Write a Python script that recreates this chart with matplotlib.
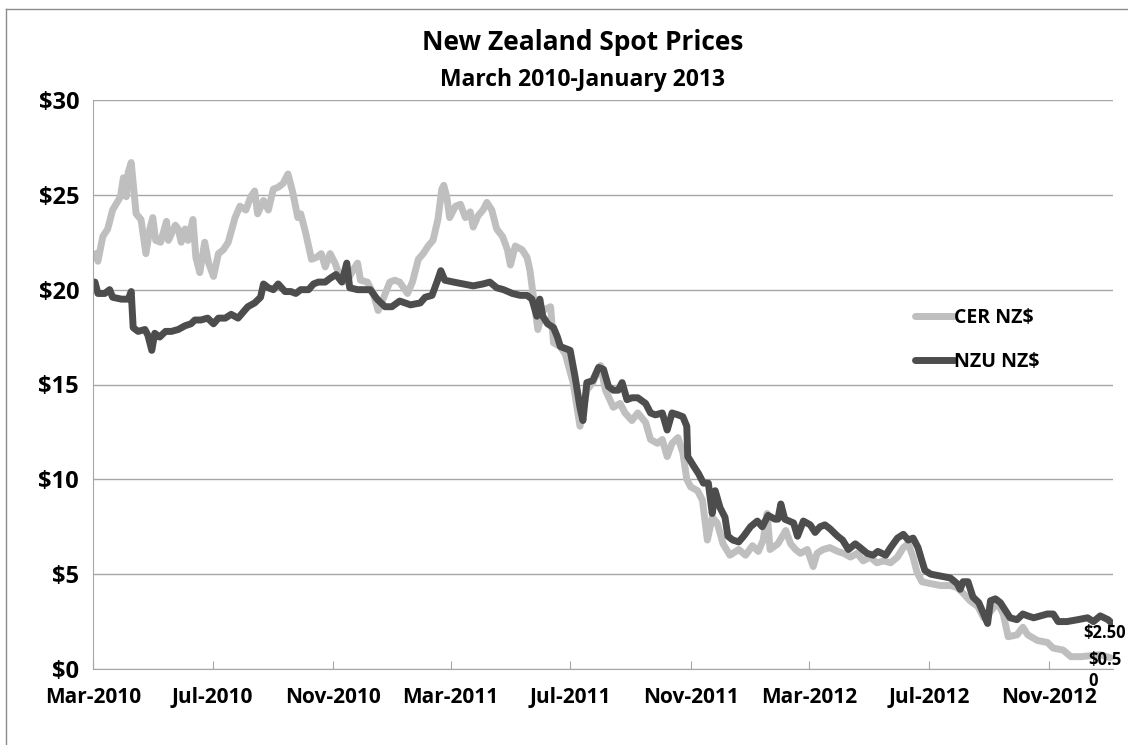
import numpy as np
import matplotlib
matplotlib.use("Agg")
import matplotlib.pyplot as plt
import matplotlib.dates as mdates
from matplotlib.lines import Line2D

plt.rcParams['font.family'] = ['Open Sans', 'DejaVu Sans']
plt.rcParams['font.weight'] = 'bold'

#-------------------------------------------------------------------------------
start = np.datetime64('2010-03-01')

# days since 1 Mar 2010, NZ$ price
cer_day = [3, 5, 10, 15, 20, 28, 31, 34, 36, 39, 42, 44, 49, 54, 58, 61, 64, 69,
           75, 77, 84, 87, 90, 94, 97, 102, 105, 109, 114, 118, 123, 128, 133,
           138, 145, 150, 156, 161, 165, 168, 174, 179, 184, 189, 194, 199, 204,
           209, 212, 217, 223, 228, 233, 237, 242, 247, 252, 259, 265, 270, 273,
           280, 286, 291, 296, 303, 308, 313, 321, 326, 332, 337, 342, 347, 352,
           356, 358, 361, 364, 370, 375, 380, 385, 388, 393, 398, 402, 407, 412,
           418, 423, 426, 431, 438, 443, 446, 449, 454, 459, 467, 470, 477, 482,
           490, 497, 504, 510, 518, 523, 531, 538, 543, 550, 556, 564, 569, 576,
           581, 586, 591, 597, 602, 606, 610, 617, 622, 627, 632, 637, 643, 650,
           659, 666, 673, 679, 684, 688, 691, 699, 707, 712, 717, 722, 729, 735,
           739, 745, 752, 760, 766, 773, 780, 786, 793, 800, 807, 814, 821, 827,
           832, 837, 841, 846, 855, 865, 875, 882, 888, 895, 903, 909, 914, 923,
           929, 934, 943, 949, 954, 964, 974, 980, 990, 998, 1008, 1018, 1028, 1038]
cer_val = [21.9, 21.5, 22.8, 23.2, 24.2, 24.9, 25.9, 24.9, 26.2, 26.7, 25.1, 24.0,
           23.7, 21.9, 23.2, 23.8, 22.6, 22.5, 23.6, 22.6, 23.4, 23.2, 22.5, 23.2,
           22.6, 23.7, 21.7, 20.9, 22.5, 21.4, 20.7, 21.9, 22.1, 22.5, 23.8, 24.4,
           24.2, 24.9, 25.2, 24.0, 24.7, 24.2, 25.3, 25.4, 25.6, 26.1, 25.1, 23.8,
           24.0, 23.0, 21.6, 21.7, 21.9, 21.2, 21.9, 21.4, 20.7, 20.4, 21.0, 21.4,
           20.5, 20.4, 19.8, 18.9, 19.5, 20.4, 20.5, 20.4, 19.8, 20.4, 21.6, 21.9,
           22.3, 22.6, 23.7, 25.3, 25.5, 24.9, 23.8, 24.4, 24.5, 23.8, 24.1, 23.3,
           23.9, 24.2, 24.6, 24.2, 23.2, 22.8, 22.1, 21.3, 22.3, 22.1, 21.7, 21.0,
           19.8, 17.9, 18.9, 19.1, 17.2, 17.0, 16.6, 15.1, 12.8, 14.7, 15.1, 16.0,
           14.7, 13.8, 14.0, 13.5, 13.1, 13.5, 13.0, 12.1, 11.9, 12.1, 11.2, 11.9,
           12.2, 11.4, 10.0, 9.6, 9.4, 8.9, 6.8, 8.0, 7.7, 6.6, 6.0, 6.3, 6.0, 6.5,
           6.2, 6.8, 8.2, 6.3, 6.6, 7.3, 6.6, 6.3, 6.1, 6.3, 5.4, 6.1, 6.3, 6.4,
           6.2, 6.1, 5.9, 6.1, 5.7, 5.9, 5.6, 5.7, 5.6, 5.9, 6.4, 6.6, 5.9, 5.1,
           4.6, 4.5, 4.4, 4.4, 4.3, 4.0, 3.6, 3.3, 2.7, 2.9, 3.5, 2.9, 1.7, 1.8,
           2.2, 1.8, 1.5, 1.4, 1.1, 1.0, 0.65, 0.65, 0.7, 0.75, 0.6]

nzu_day = [2, 5, 12, 17, 20, 29, 36, 39, 41, 46, 53, 56, 60, 63, 68, 74, 80, 87,
           94, 100, 104, 110, 117, 123, 128, 135, 141, 148, 153, 158, 165, 171,
           174, 179, 184, 189, 196, 202, 207, 212, 220, 225, 230, 237, 242, 248,
           254, 259, 262, 270, 283, 290, 298, 305, 313, 324, 334, 339, 346, 351,
           355, 359, 368, 378, 388, 398, 405, 412, 419, 428, 436, 443, 448, 453,
           456, 459, 464, 470, 474, 477, 487, 492, 497, 500, 504, 510, 516, 521,
           526, 531, 536, 540, 545, 550, 556, 564, 569, 574, 581, 586, 591, 597,
           602, 606, 607, 613, 618, 623, 628, 632, 635, 640, 645, 648, 653, 659,
           664, 671, 678, 683, 689, 696, 699, 702, 706, 715, 719, 725, 732, 737,
           742, 747, 752, 760, 765, 771, 778, 783, 790, 796, 801, 809, 814, 821,
           827, 832, 837, 842, 846, 849, 855, 865, 875, 882, 885, 888, 893, 898,
           904, 909, 913, 916, 921, 926, 931, 936, 943, 949, 954, 960, 967, 974,
           980, 985, 994, 1005, 1015, 1021, 1028, 1036, 1040]
nzu_val = [20.4, 19.8, 19.8, 20.0, 19.6, 19.5, 19.5, 19.9, 18.0, 17.8, 17.9, 17.6,
           16.8, 17.7, 17.5, 17.8, 17.8, 17.9, 18.1, 18.2, 18.4, 18.4, 18.5, 18.2,
           18.5, 18.5, 18.7, 18.5, 18.8, 19.1, 19.3, 19.6, 20.3, 20.1, 20.0, 20.3,
           19.9, 19.9, 19.8, 20.0, 20.0, 20.3, 20.4, 20.4, 20.6, 20.8, 20.4, 21.4,
           20.1, 20.0, 20.0, 19.5, 19.1, 19.1, 19.4, 19.2, 19.3, 19.6, 19.7, 20.4,
           21.0, 20.5, 20.4, 20.3, 20.2, 20.3, 20.4, 20.1, 20.0, 19.8, 19.7, 19.7,
           19.5, 18.6, 19.5, 18.6, 18.2, 18.0, 17.5, 17.0, 16.8, 15.4, 13.8, 13.1,
           15.1, 15.2, 15.9, 15.8, 14.9, 14.7, 14.7, 15.1, 14.2, 14.3, 14.3, 14.0,
           13.5, 13.4, 13.5, 12.6, 13.5, 13.4, 13.3, 12.8, 11.2, 10.7, 10.3, 9.8,
           9.8, 8.2, 9.4, 8.5, 8.0, 7.0, 6.8, 6.7, 7.0, 7.5, 7.8, 7.5, 8.1, 7.9,
           7.9, 8.7, 7.9, 7.7, 7.0, 7.8, 7.6, 7.2, 7.5, 7.6, 7.4, 7.0, 6.8, 6.3,
           6.6, 6.4, 6.1, 6.0, 6.2, 6.0, 6.4, 6.9, 7.1, 6.8, 6.9, 6.4, 5.7, 5.2,
           5.0, 4.9, 4.8, 4.5, 4.2, 4.6, 4.6, 3.8, 3.5, 2.9, 2.4, 3.6, 3.7, 3.5,
           3.1, 2.7, 2.6, 2.9, 2.8, 2.7, 2.8, 2.9, 2.9, 2.5, 2.5, 2.6, 2.7, 2.5,
           2.8, 2.6, 2.4]

end_labels = ['$2.50', '$0.5\n0']
#-------------------------------------------------------------------------------
cer_x = start + np.array(cer_day).astype('timedelta64[D]')
nzu_x = start + np.array(nzu_day).astype('timedelta64[D]')

fig = plt.figure(figsize=(11.28, 7.45), dpi=100)
ax = fig.add_axes([93/1128, 76/745, 1020/1128, 569/745])

ax.plot(cer_x, cer_val, color='#bfbfbf', lw=5, label='CER NZ$',
        solid_capstyle='round', solid_joinstyle='round')
ax.plot(nzu_x, nzu_val, color='#4d4d4d', lw=5, label='NZU NZ$',
        solid_capstyle='round', solid_joinstyle='round')

ax.set_xlim(start, start + np.timedelta64(1041, 'D'))
ax.set_ylim(0, 30)
ax.set_yticks(range(0, 31, 5))
ax.set_yticklabels(['$%d' % v for v in range(0, 31, 5)], fontsize=17)
ax.yaxis.grid(True, color='#a6a6a6', lw=1)
ax.set_axisbelow(True)

ax.xaxis.set_major_locator(mdates.MonthLocator(bymonth=[3, 7, 11]))
ax.xaxis.set_major_formatter(mdates.DateFormatter('%b-%Y'))
ax.tick_params(axis='x', direction='in', length=6, color='#a6a6a6',
               labelsize=15, pad=13)
ax.tick_params(axis='y', length=0, pad=10)

for s in ['top', 'right']:
    ax.spines[s].set_visible(False)
for s in ['left', 'bottom']:
    ax.spines[s].set_color('#a6a6a6')

ax.text(start + np.timedelta64(1011, 'D'), 1.9, end_labels[0], fontsize=12,
        va='center', ha='left', clip_on=False)
ax.text(start + np.timedelta64(1016, 'D'), 0.95, end_labels[1], fontsize=12,
        va='top', ha='left', linespacing=1.2, clip_on=False)

ax.legend(loc='upper left', bbox_to_anchor=(0.806, 0.634), frameon=False,
          fontsize=14, handlelength=2.0, handletextpad=0.0, labelspacing=1.2,
          borderpad=0, borderaxespad=0)

fig.text(583/1128, 1 - 43/745, 'New Zealand Spot Prices', fontsize=19,
         ha='center', va='center')
fig.text(583/1128, 1 - 80/745, 'March 2010-January 2013', fontsize=16.5,
         ha='center', va='center')

# outer chart frame
fig.add_artist(Line2D([6/1128, 6/1128], [0, 1 - 9/745], color='#8c8c8c', lw=1))
fig.add_artist(Line2D([6/1128, 1], [1 - 9/745, 1 - 9/745], color='#8c8c8c', lw=1))

fig.savefig('out.png', dpi=100)
